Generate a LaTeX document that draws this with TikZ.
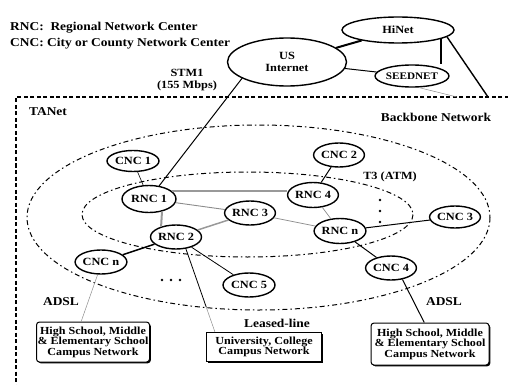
\documentclass[tikz,border=0pt]{standalone}
\usepackage{fontspec}
\setmainfont{Liberation Serif}[FakeStretch=1.12,BoldFeatures={FakeStretch=1.12}]
\usetikzlibrary{shapes.geometric,shadows}

\begin{document}
\begin{tikzpicture}[x=1pt,y=-1pt,
  net/.style={ellipse,draw,fill=white,line width=1.4pt,inner sep=0pt,
    minimum width=50pt,minimum height=25pt,font=\bfseries\fontsize{11}{12}\selectfont},
  site/.style={draw,fill=white,line width=1pt,align=center,inner sep=0pt,
    font=\bfseries\fontsize{10.8}{10.5}\selectfont,
    drop shadow={shadow xshift=1.3pt,shadow yshift=-1.3pt,fill=black,opacity=1}},
  lbl/.style={inner sep=0pt,font=\bfseries\fontsize{12}{13}\selectfont},
  ring/.style={line width=1pt,dash pattern=on 5pt off 3pt on 1.5pt off 3pt},
  trunk/.style={line width=2pt,black!40},
  feed/.style={line width=0.9pt,black!45},
  link/.style={line width=1pt},
  tail/.style={line width=0.5pt,black!45}]
  \useasboundingbox (0,0) rectangle (508,385);

  % legend
  \node[lbl,anchor=west] (key1) at (10,28) {RNC:\ \ Regional Network Center};
  \node[lbl,anchor=west] (key2) at (10,44) {CNC: City or County Network Center};

  % TANet frame and the two rings
  \draw[line width=2.2pt,dash pattern=on 4pt off 2.5pt] (515,97) -- (16,97) -- (16,392);
  \coordinate (tn) at (488,97);
  \coordinate (sn) at (457,97);
  \draw[ring] (258.5,217.5) ellipse [x radius=231.5,y radius=92.5];
  \draw[ring] (247.5,214.5) ellipse [x radius=165.5,y radius=42.5];

  \node[lbl] (tanet) at (48,112) {TANet};
  \node[lbl] (bb) at (436,117) {Backbone Network};
  \node[lbl,font=\bfseries\fontsize{11}{12}\selectfont] (t3) at (390,177) {T3 (ATM)};
  \node[lbl,font=\bfseries\fontsize{11}{12}\selectfont,align=center] (stm) at (187,80) {STM1\\(155 Mbps)};

  % outside networks
  \node[net,minimum width=119pt,minimum height=48pt,align=center] (us) at (287,62) {US\\Internet};
  \node[net,minimum width=112pt,minimum height=26pt] (hinet) at (398,30) {HiNet};
  \node[net,minimum width=70pt,minimum height=22pt,font=\bfseries\fontsize{10}{11}\selectfont] (seed) at (412,76) {SEEDNET};

  % centers
  \node[net,minimum width=52pt,minimum height=21pt] (cnc1) at (133,161) {CNC 1};
  \node[net,minimum width=48pt,minimum height=24pt] (cnc2) at (339,155) {CNC 2};
  \node[net,minimum width=50pt,minimum height=22pt] (cnc3) at (455,217) {CNC 3};
  \node[net,minimum width=48pt,minimum height=24pt] (cnc4) at (391,268) {CNC 4};
  \node[net,minimum width=52pt,minimum height=24pt] (cnc5) at (249,285) {CNC 5};
  \node[net,minimum width=50pt,minimum height=24pt] (cncn) at (101,262) {CNC n};
  \node[net,minimum width=54pt,minimum height=27pt] (rnc1) at (149,199) {RNC 1};
  \node[net,minimum width=51pt,minimum height=24pt] (rnc2) at (176,237) {RNC 2};
  \node[net,minimum height=24pt] (rnc3) at (250,213) {RNC 3};
  \node[net,minimum height=25pt] (rnc4) at (313,195) {RNC 4};
  \node[net,minimum height=25pt] (rncn) at (340,231) {RNC n};

  % campus networks
  \node[site,rounded corners=3pt,minimum width=113pt,minimum height=40pt] (hs1) at (93,342) {High School, Middle\\\& Elementary School\\Campus Network};
  \node[site,minimum width=115pt,minimum height=29pt] (univ) at (264,347) {University, College\\Campus Network};
  \node[site,rounded corners=3pt,minimum width=118pt,minimum height=42pt] (hs2) at (430,344) {High School, Middle\\\& Elementary School\\Campus Network};

  \node[lbl] (adsl1) at (61,302) {ADSL};
  \node[lbl] (adsl2) at (444,302) {ADSL};
  \node[lbl] (lease) at (277,323) {Leased-line};

  % outside links
  \draw[line width=2pt] (us) -- (hinet);
  \draw[link] (us) -- (seed);
  \draw[line width=2pt] (hinet.-12) -- (hinet.-12 |- seed.north);
  \draw[line width=1.4pt] (hinet.-8) -- (tn);
  \draw[tail] (seed.-60) -- (sn);
  \draw[link] (us.200) -- (rnc1);

  % backbone
  \draw[trunk] (rnc1.20) -- (rnc4.west |- rnc1.20);
  \draw[trunk] (rnc1.-44) -- (rnc2.145);
  \draw[feed] (rnc1) -- (rnc3);
  \draw[trunk,line width=1.5pt] (rnc2) -- (rnc3);
  \draw[tail,line width=0.7pt] (rnc3) -- (rncn);
  \draw[tail,line width=0.7pt] (rnc4) -- (rncn);

  % access links
  \draw[line width=0.6pt] (cnc1) -- (rnc1);
  \draw[link] (cnc2) -- (rnc4);
  \draw[link] (rncn) -- (cnc3);
  \draw[link] (rncn) -- (cnc4);
  \draw[line width=1.5pt] (rnc2) -- (cncn);
  \draw[line width=0.8pt] (rnc2) -- (cnc5);
  \path (rnc2.-50) -- (univ.163) coordinate[pos=0.7] (ll);
  \draw[line width=0.8pt] (rnc2.-50) -- (ll);
  \draw[tail] (ll) -- (univ.163);
  \draw[tail] (cncn.-105) -- (hs1.120);
  \draw[link] (cnc4.-45) -- (hs2.105);

  % dots
  \foreach \x in {162,171,180} {\fill (\x,280) circle (1.3pt);}
  \foreach \y in {200,211,222} {\fill (380,\y) circle (1.3pt);}
\end{tikzpicture}
\end{document}
